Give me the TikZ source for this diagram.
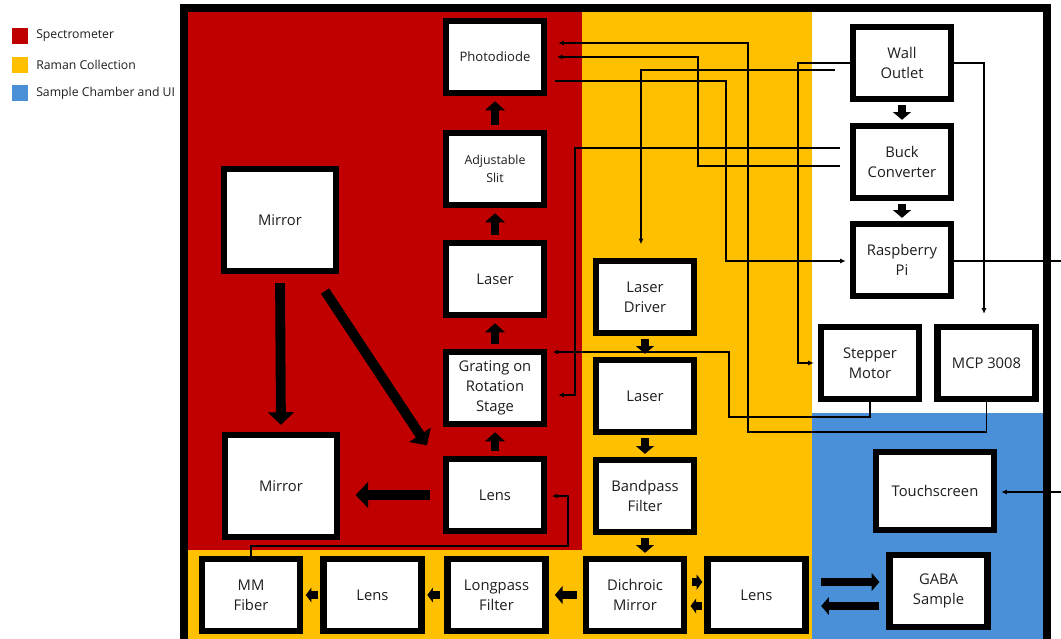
\documentclass[tikz,border=0pt]{standalone}
\usepackage{fontspec}
\setmainfont{Open Sans}
\usetikzlibrary{arrows.meta,calc}
\definecolor{specred}{HTML}{C00000}
\definecolor{ramanyel}{HTML}{FFC000}
\definecolor{chamblue}{HTML}{4A90D8}
\definecolor{boxink}{HTML}{1E1E1E}

\begin{document}
\begin{tikzpicture}[x=0.025cm, y=-0.025cm, font=\fontsize{10.5}{14}\selectfont,
  part/.style={draw=black, line width=4.3pt, fill=white, text=boxink, align=center,
    minimum width=2.45cm, minimum height=1.78cm, inner sep=1pt},
  bigpart/.style={part, minimum width=2.8cm, minimum height=2.55cm},
  wire/.style={line width=0.9pt, -{Latex[length=4pt,width=3.6pt]}},
  plainwire/.style={line width=0.9pt},
  beam/.style={line width=5.5pt, -{Triangle[width=12.5pt,length=5.5pt]}, shorten <=2.5pt, shorten >=2.5pt},
  stubbeam/.style={line width=5pt, -{Triangle[width=10.5pt,length=4pt]}, shorten <=2pt, shorten >=2pt},
  tallbeam/.style={line width=5.8pt, -{Triangle[width=14pt,length=6.5pt]}, shorten <=4pt, shorten >=4pt},
  bigbeam/.style={line width=7pt, -{Triangle[width=18pt,length=9pt]}},
  swatch/.style={minimum width=0.4cm, minimum height=0.4cm, inner sep=0pt},
  key/.style={font=\fontsize{8.7}{10}\selectfont, text=boxink, anchor=west, inner sep=0pt}]
  \useasboundingbox (0,0) rectangle (1061,639);
  % regions
  \fill[specred] (188,12) rectangle (582,550);
  \fill[ramanyel] (582,12) rectangle (812,639);
  \fill[ramanyel] (188,550) rectangle (582,639);
  \fill[chamblue] (812,413) rectangle (1043,639);
  \draw[line width=5.6pt] (184,639) -- (184,8) -- (1047,8) -- (1047,639);
  % legend
  \node[swatch, fill=specred] (kred) at (20,36) {};
  \node[swatch, fill=ramanyel] (kyel) at (20,64.5) {};
  \node[swatch, fill=chamblue] (kblue) at (20,93) {};
  \node[key] at (36,36) {Spectrometer};
  \node[key] at (36,64.5) {Raman Collection};
  \node[key] at (36,93) {Sample Chamber and UI};
  % spectrometer
  \node[part, font=\fontsize{9.3}{12}\selectfont] (photo) at (495,57) {Photodiode};
  \node[part, font=\fontsize{8.8}{12.5}\selectfont] (slit) at (495,169) {Adjustable\\Slit};
  \node[part] (laserR) at (495,279) {Laser};
  \node[part] (grat) at (495,388) {Grating on\\Rotation\\Stage};
  \node[part] (lensR) at (495,495) {Lens};
  \node[bigpart] (mirT) at (280,220) {Mirror};
  \node[bigpart] (mirB) at (281,486) {Mirror};
  % raman collection
  \node[part] (drv) at (645,297) {Laser\\Driver};
  \node[part] (laserY) at (645,396) {Laser};
  \node[part] (band) at (645,496) {Bandpass\\Filter};
  \node[part] (dich) at (635,595) {Dichroic\\Mirror};
  \node[part] (lensC) at (756.5,595) {Lens};
  \node[part] (long) at (496.5,595) {Longpass\\Filter};
  \node[part] (lensB) at (372.5,595) {Lens};
  \node[part] (mm) at (251,595) {MM\\Fiber};
  % power and control
  \node[part] (wall) at (902,63) {Wall\\Outlet};
  \node[part] (buck) at (902,162) {Buck\\Converter};
  \node[part] (rpi) at (902,260) {Raspberry\\Pi};
  \node[part] (step) at (870,363) {Stepper\\Motor};
  \node[part] (mcp) at (986.5,363) {MCP 3008};
  % sample chamber and UI
  \node[part, minimum width=2.95cm, minimum height=1.95cm] (touch) at (935,491) {Touchscreen};
  \node[part] (gaba) at (938.5,591) {GABA\\Sample};
  \coordinate (ldfree) at (835,70);
  \coordinate (rpiout) at (1061,261);
  \coordinate (touchin) at (1061,492);
  % wiring
  \draw[wire, shorten >=8pt] (mcp.south) |- (748,432) |- (photo.east |- 0,43);
  \draw[wire, shorten <=7pt, shorten >=7pt] (buck.west |- 0,166) -| (698,57) -- (photo.east |- 0,57);
  \draw[wire, shorten <=6pt, shorten >=3pt] (photo.east |- 0,81) -| (726,261) -- (rpi.west |- 0,261);
  \draw[wire, shorten >=10pt] (ldfree) -| (drv.north -| 641,0);
  \draw[wire, shorten >=3pt] (wall.west |- 0,63) -| (798,363) -- (step.west |- 0,363);
  \draw[wire, shorten >=7.5pt] (wall.east |- 0,63) -| (mcp.north -| 984,0);
  \draw[wire, shorten <=7pt, shorten >=8pt] (buck.west |- 0,148) -| (575,395) -- (grat.east |- 0,395);
  \draw[wire, shorten >=4pt] (step.south) |- (729,417) |- (grat.east |- 0,352);
  \draw[plainwire] (rpi.east |- 0,261) -- (rpiout);
  \draw[wire, shorten >=3pt] (touchin) -- (touch.east |- 0,492);
  \draw[wire, shorten >=3.5pt] (mm.north -| 251,0) |- (568,546) |- (lensR.east |- 0,496);
  % light path
  \draw[tallbeam] (slit.north) -- (photo.south);
  \draw[tallbeam] (laserR.north) -- (slit.south);
  \draw[tallbeam] (grat.north) -- (laserR.south);
  \draw[tallbeam] (lensR.north) -- (grat.south);
  \draw[bigbeam, shorten <=6.4pt, shorten >=5pt] (mirT.south) -- (mirB.north);
  \draw[bigbeam] ($(mirT.south east)+(-14,17)$) -- ($(lensR.north west)+(-16,-11)$);
  \draw[bigbeam, shorten <=9pt, shorten >=11pt] (lensR.west) -- (mirB.east |- lensR.west);
  \draw[beam] (drv.south) -- (laserY.north);
  \draw[beam] (laserY.south) -- (band.north);
  \draw[beam] (band.south) -- (dich.north -| band.south);
  \draw[beam, shorten <=4pt, shorten >=4.5pt] (dich.west) -- (long.east);
  \draw[stubbeam, shorten <=3.5pt] (long.west) -- (lensB.east);
  \draw[stubbeam] (lensB.west) -- (mm.east);
  \draw[stubbeam, shorten <=3.5pt, shorten >=1.5pt] (dich.east |- 0,582) -- (lensC.west |- 0,582);
  \draw[stubbeam, shorten <=1.5pt, shorten >=2.5pt] (lensC.west |- 0,606) -- (dich.east |- 0,606);
  \draw[beam, shorten <=9pt, shorten >=5pt] (lensC.east |- 0,582) -- (gaba.west |- 0,582);
  \draw[beam, shorten <=5pt, shorten >=9pt] (gaba.west |- 0,606) -- (lensC.east |- 0,606);
  \draw[beam] (wall.south) -- (buck.north);
  \draw[beam] (buck.south) -- (rpi.north);
\end{tikzpicture}
\end{document}
